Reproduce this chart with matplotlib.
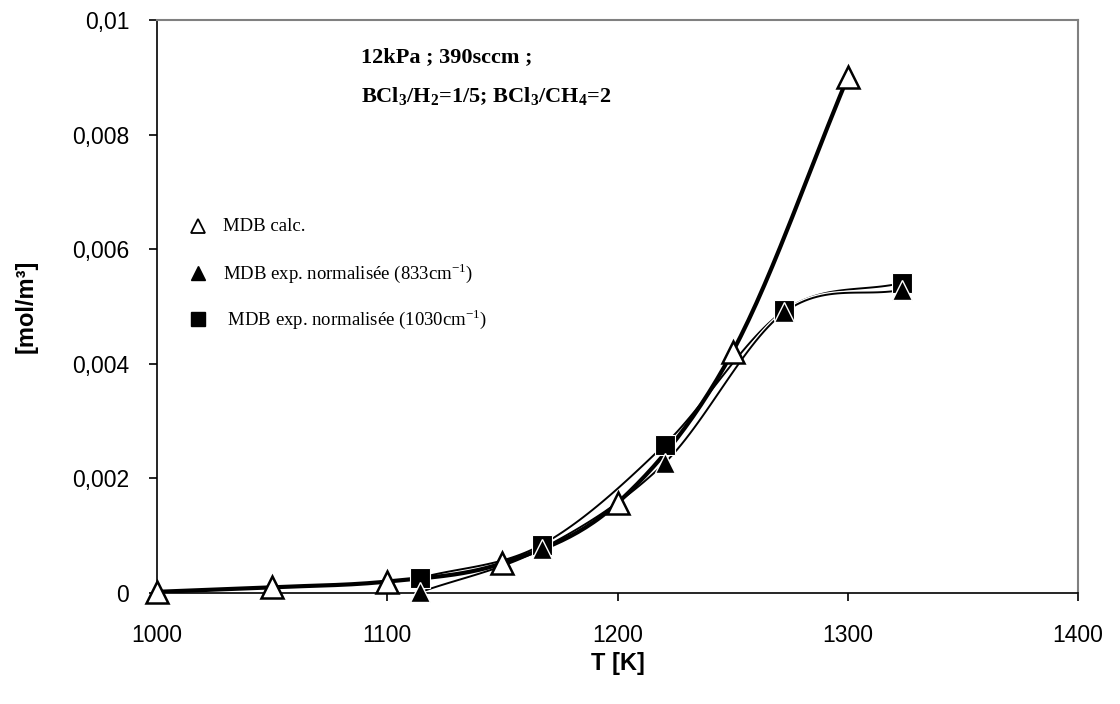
import numpy as np
import matplotlib
matplotlib.use("Agg")
import matplotlib.pyplot as plt
import matplotlib.patheffects as pe
from matplotlib.ticker import FuncFormatter

plt.rcParams["mathtext.fontset"] = "custom"
plt.rcParams["mathtext.rm"] = "Liberation Serif"
plt.rcParams["mathtext.bf"] = "Liberation Serif:bold"

# ---------- Data ----------
t_calc = [1000, 1050, 1100, 1150, 1200, 1250, 1300]
mdb_calc = [0.00002, 0.0001, 0.0002, 0.00052, 0.00157, 0.00421, 0.0090]

t_exp = [1114, 1167, 1220.5, 1272.5, 1323.5]
mdb_833 = [0.00001, 0.00077, 0.00227, 0.00490, 0.00529]
mdb_1030 = [0.00026, 0.00084, 0.00259, 0.00493, 0.00541]

legend_labels = ["MDB calc.",
                 r"MDB exp. normalisée (833cm$^{\mathrm{-1}}$)",
                 r" MDB exp. normalisée (1030cm$^{\mathrm{-1}}$)"]


def smooth(x, y, n=30):
    # Catmull-Rom style curve through the points (like Excel's smoothed line)
    x = np.asarray(x, float)
    y = np.asarray(y, float)
    px = np.concatenate([[2 * x[0] - x[1]], x, [2 * x[-1] - x[-2]]])
    py = np.concatenate([[2 * y[0] - y[1]], y, [2 * y[-1] - y[-2]]])
    xs, ys = [], []
    t = np.linspace(0, 1, n)
    for i in range(1, len(px) - 2):
        for p, out in ((px, xs), (py, ys)):
            p0, p1, p2, p3 = p[i - 1], p[i], p[i + 1], p[i + 2]
            out.extend(0.5 * ((2 * p1) + (-p0 + p2) * t
                              + (2 * p0 - 5 * p1 + 4 * p2 - p3) * t ** 2
                              + (-p0 + 3 * p1 - 3 * p2 + p3) * t ** 3))
    return np.array(xs), np.array(ys)


fig = plt.figure(figsize=(11.2, 7.04), dpi=100)
ax = fig.add_axes([0.1402, 0.1577, 0.8223, 0.8139])

outline = [pe.Stroke(linewidth=3.2, foreground="white"), pe.Normal()]

sx, sy = smooth(t_exp, mdb_1030)
ax.plot(sx, sy, color="black", lw=1.4, path_effects=outline, zorder=2)
sx, sy = smooth(t_exp, mdb_833)
ax.plot(sx, sy, color="black", lw=1.4, path_effects=outline, zorder=2)
sx, sy = smooth(t_calc, mdb_calc)
ax.plot(sx, sy, color="black", lw=3, zorder=3)

ax.plot(t_exp, mdb_1030, ls="none", marker="s", ms=15, mfc="black",
        mec="white", mew=0.8, zorder=4, clip_on=False)
ax.plot(t_exp, mdb_833, ls="none", marker="^", ms=15, mfc="black",
        mec="white", mew=1.0, zorder=5, clip_on=False)
ax.plot(t_calc, mdb_calc, ls="none", marker="^", ms=16, mfc="white",
        mec="black", mew=1.8, zorder=6, clip_on=False)

ax.set_xlim(1000, 1400)
ax.set_ylim(0, 0.01)
ax.set_xticks([1000, 1100, 1200, 1300, 1400])
ax.set_yticks([0, 0.002, 0.004, 0.006, 0.008, 0.01])
ax.yaxis.set_major_formatter(FuncFormatter(
    lambda v, p: "0" if v == 0 else f"{v:g}".replace(".", ",")))

for s in ("top", "right"):
    ax.spines[s].set_color("#808080")
    ax.spines[s].set_linewidth(1.5)
for s in ("left", "bottom"):
    ax.spines[s].set_color("black")
    ax.spines[s].set_linewidth(1.2)
ax.tick_params(direction="out", length=6, width=1.2, labelsize=16.5)
ax.tick_params(axis="x", pad=16)
ax.tick_params(axis="y", pad=14)
for lab in ax.get_xticklabels() + ax.get_yticklabels():
    lab.set_family("Liberation Sans")

ax.set_xlabel("T [K]", fontsize=17, fontweight="bold",
              family="Liberation Sans", labelpad=4)
ax.set_ylabel("[mol/m³]", fontsize=17, fontweight="bold",
              family="Liberation Sans", labelpad=25)

# condition annotation
ax.text(0.222, 0.935, "12kPa ; 390sccm ;", transform=ax.transAxes,
        fontsize=16, fontweight="bold", family="Liberation Serif", va="center")
ax.text(0.222, 0.866,
        r"BCl$_\mathbf{3}$/H$_\mathbf{2}$=1/5; BCl$_\mathbf{3}$/CH$_\mathbf{4}$=2",
        transform=ax.transAxes, fontsize=16, fontweight="bold",
        family="Liberation Serif", va="center")

# hand-placed legend
leg_y = [0.64, 0.558, 0.478]
leg_style = [dict(marker="^", mfc="white", mec="black", mew=1.3, ms=10),
             dict(marker="^", mfc="black", mec="black", mew=1, ms=10),
             dict(marker="s", mfc="black", mec="black", mew=1, ms=10)]
for yy, lab, st in zip(leg_y, legend_labels, leg_style):
    ax.plot([0.045], [yy], transform=ax.transAxes, clip_on=False, **st)
    ax.text(0.072, yy, lab, transform=ax.transAxes, fontsize=13.5,
            family="Liberation Serif", va="center")

fig.savefig("out.png", dpi=100)
